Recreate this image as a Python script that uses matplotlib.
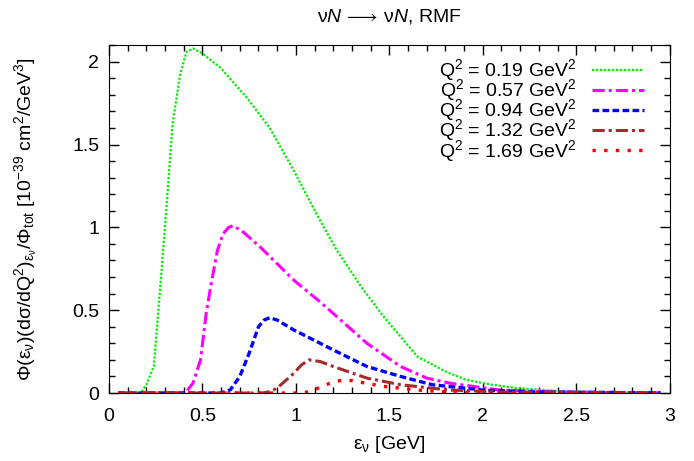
import matplotlib
matplotlib.use("Agg")
import matplotlib.pyplot as plt
from matplotlib.ticker import MultipleLocator, FuncFormatter

plt.rcParams['font.family'] = ['Liberation Sans', 'DejaVu Sans']
plt.rcParams['mathtext.fontset'] = 'custom'
plt.rcParams['mathtext.rm'] = 'Liberation Sans'
plt.rcParams['mathtext.it'] = 'Liberation Sans:italic'
plt.rcParams['mathtext.bf'] = 'Liberation Sans:bold'

# Q^2 = 0.19 GeV^2
x_019 = [0.05, 0.17, 0.2, 0.24, 0.28, 0.31, 0.34, 0.38, 0.415, 0.45, 0.5, 0.6, 0.74, 0.86, 0.99,
         1.13, 1.22, 1.35, 1.47, 1.65, 1.8, 1.91, 2.05, 2.18, 2.4, 2.6, 2.95]
y_019 = [0, 0, 0.05, 0.16, 0.72, 1.16, 1.62, 1.92, 2.06, 2.08, 2.05, 1.96, 1.78, 1.60, 1.34,
         1.04, 0.86, 0.64, 0.46, 0.22, 0.13, 0.08, 0.05, 0.03, 0.012, 0.005, 0.001]
# Q^2 = 0.57 GeV^2
x_057 = [0.05, 0.38, 0.415, 0.45, 0.49, 0.52, 0.55, 0.58, 0.61, 0.64, 0.665, 0.72, 0.81, 0.9, 0.99,
         1.13, 1.2, 1.38, 1.56, 1.7, 1.82, 2.09, 2.4, 2.95]
y_057 = [0, 0, 0.01, 0.06, 0.2, 0.48, 0.68, 0.86, 0.96, 1.0, 1.01, 0.97, 0.88, 0.78, 0.68,
         0.55, 0.48, 0.30, 0.16, 0.09, 0.06, 0.018, 0.006, 0.001]
# Q^2 = 0.94 GeV^2
x_094 = [0.05, 0.6, 0.65, 0.7, 0.75, 0.8, 0.83, 0.86, 0.9, 0.99, 1.13, 1.2, 1.38, 1.56, 1.73, 2.0, 2.3, 2.95]
y_094 = [0, 0, 0.02, 0.1, 0.24, 0.4, 0.44, 0.455, 0.44, 0.38, 0.30, 0.26, 0.16, 0.10, 0.05, 0.018, 0.006, 0.001]
# Q^2 = 1.32 GeV^2
x_132 = [0.05, 0.82, 0.87, 0.91, 0.95, 0.99, 1.03, 1.07, 1.13, 1.2, 1.38, 1.56, 1.82, 2.1, 2.95]
y_132 = [0, 0, 0.01, 0.04, 0.08, 0.12, 0.17, 0.2, 0.19, 0.16, 0.09, 0.05, 0.018, 0.006, 0.001]
# Q^2 = 1.69 GeV^2
x_169 = [0.05, 1.03, 1.08, 1.12, 1.16, 1.2, 1.25, 1.3, 1.38, 1.47, 1.65, 1.82, 2.1, 2.95]
y_169 = [0, 0, 0.01, 0.03, 0.05, 0.065, 0.078, 0.075, 0.058, 0.04, 0.018, 0.005, 0.002, 0.0]

labels = [r"Q$^2$ = 0.19 GeV$^2$", r"Q$^2$ = 0.57 GeV$^2$", r"Q$^2$ = 0.94 GeV$^2$",
          r"Q$^2$ = 1.32 GeV$^2$", r"Q$^2$ = 1.69 GeV$^2$"]

fig = plt.figure(figsize=(6.94, 4.61), dpi=100)
ax = fig.add_axes([0.157, 0.1475, 0.808, 0.7545])

ax.plot(x_019, y_019, color='#00ee00', lw=1.6, ls=(0, (1, 0.8)), label=labels[0])
ax.plot(x_057, y_057, color='#ff00ff', lw=2.2, ls=(0, (4, 1.3, 1, 1.3)), label=labels[1])
ax.plot(x_094, y_094, color='#0000ff', lw=2.4, ls=(0, (2, 1)), label=labels[2])
ax.plot(x_132, y_132, color='#a52a2a', lw=2.2, ls=(0, (4, 1.3, 1, 1.3)), label=labels[3])
ax.plot(x_169, y_169, color='#ff0000', lw=2.4, ls=(0, (1, 2.5)), label=labels[4])

ax.set_xlim(0, 3)
ax.set_ylim(0, 2.1)
ax.xaxis.set_major_locator(MultipleLocator(0.5))
ax.xaxis.set_minor_locator(MultipleLocator(0.1))
ax.yaxis.set_major_locator(MultipleLocator(0.5))
ax.yaxis.set_minor_locator(MultipleLocator(0.1))
ax.tick_params(which='both', direction='in', top=True, right=True, labelsize=14)
ax.tick_params(which='major', length=7, width=1)
ax.tick_params(which='minor', length=4, width=1)
ax.tick_params(axis='x', which='major', pad=11)
ax.tick_params(axis='y', which='major', pad=7)
ax.xaxis.set_major_formatter(FuncFormatter(lambda v, p: f"{v:g}"))
ax.yaxis.set_major_formatter(FuncFormatter(lambda v, p: f"{v:g}"))

ax.set_xlabel(r"$\mathrm{\varepsilon_{\nu}}$ [GeV]", fontsize=14, labelpad=6)
ax.set_ylabel(r"$\mathrm{\Phi(\varepsilon_{\nu})(d\sigma/dQ^2)_{\varepsilon_{\nu}}/\Phi_{tot}}$ [10$^{-39}$ cm$^2$/GeV$^3$]",
              fontsize=14, labelpad=24)
ax.set_title(r"$\mathrm{\nu}\mathit{N}\,\longrightarrow\,\mathrm{\nu}\mathit{N}$, RMF", fontsize=14, pad=17)

ax.legend(loc='upper right', frameon=False, markerfirst=False, fontsize=14,
          handlelength=2.7, handletextpad=0.8, labelspacing=-0.3,
          borderpad=0, borderaxespad=0, bbox_to_anchor=(0.955, 0.965))

fig.savefig("out.png", dpi=100)
